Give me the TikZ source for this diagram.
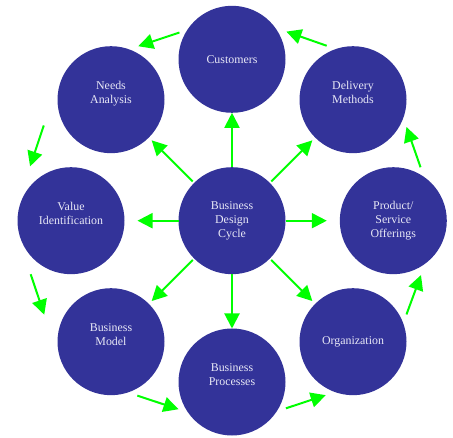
\documentclass[tikz,border=0pt]{standalone}
\usepackage{fontspec}
\setmainfont{Liberation Serif}
\usepackage{tikz}
\usetikzlibrary{positioning, calc, arrows.meta}

\definecolor{bubbleblue}{RGB}{51,51,153}
\definecolor{bubbletext}{RGB}{232,232,246}
\definecolor{arrowgreen}{RGB}{0,255,0}

\begin{document}
\begin{tikzpicture}[x=1pt, y=1pt,
		bubble/.style={circle, fill=bubbleblue, minimum size=107pt, inner sep=0pt,
			outer sep=0pt, align=center, text=bubbletext,
			font=\fontsize{11.9}{14}\selectfont},
		spoke/.style={draw=arrowgreen, line width=2pt,
			-{Triangle[length=15pt, width=15pt]}},
		ring/.style={spoke}
	]

		\useasboundingbox (0,0) rectangle (453,437);

		% Hub of the cycle.
		\node[bubble] (hub) at (232,216.3) {Business\\Design\\Cycle};

		% Outer bubbles (an empty last line keeps two-line labels high).
		\node[bubble] (cust) at (232,377.7) {Customers};
		\node[bubble] (need) at (111,337.3) {Needs\\Analysis\\~};
		\node[bubble] (deli) at (353,337.3) {Delivery\\Methods\\~};
		\node[bubble] (valu) at (71,216.3)  {Value\\Identification\\~};
		\node[bubble] (prod) at (393.3,216.3) {Product/\\Service\\Offerings};
		\node[bubble] (modl) at (111,95.3)  {Business\\Model\\~};
		\node[bubble] (orgn) at (353,95.3)  {Organization};
		\node[bubble] (proc) at (232,55)    {Business\\Processes\\~};

		% Spokes out of the hub.
		\draw[spoke] (hub) -- (cust);
		\draw[spoke] (hub) -- (proc);
		\draw[spoke, shorten >=13pt] (hub) -- (valu);
		\draw[spoke, shorten >=13pt] (hub) -- (prod);
		\foreach \dst in {need, deli, modl, orgn}{
			\draw[spoke, shorten <=2pt, shorten >=4pt] (hub) -- (\dst);
		}

		% Ring arrows: source/angle/radius to target/angle/radius.
		\foreach \src/\sa/\sr/\dst/\dsa/\dsr in {
				cust/153/59/need/63/60,
				need/201/72/valu/127/68,
				valu/233/67/modl/158/72,
				modl/296/60/proc/207/60,
				proc/334/60/orgn/243/60,
				orgn/27/60/prod/297/61,
				prod/63/60/deli/333/60,
				deli/116/60/cust/27/61}{
			\draw[ring] ($(\src)+(\sa:\sr)$) -- ($(\dst)+(\dsa:\dsr)$);
		}

	\end{tikzpicture}
\end{document}
